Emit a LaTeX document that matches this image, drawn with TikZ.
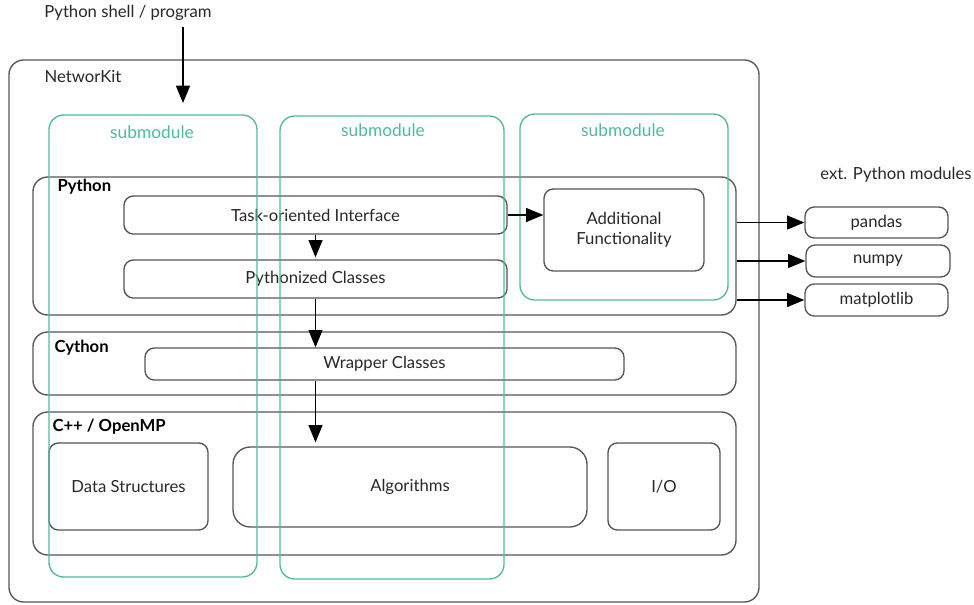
\documentclass[tikz,border=0pt]{standalone}
\usepackage{fontspec}
\setmainfont{Lato}
\usetikzlibrary{fit,arrows.meta}

\definecolor{boxgray}{RGB}{85,85,85}
\definecolor{subteal}{RGB}{78,187,160}
\definecolor{txtgray}{RGB}{40,40,40}

\tikzset{every picture/.style={line width=0.75pt}}
\tikzset{
  modbox/.style={draw=boxgray, line width=1pt, rounded corners=7pt, inner sep=0pt, text=txtgray, align=center, font=\fontsize{12.5}{15}\selectfont},
  layerbox/.style={draw=boxgray, line width=1pt, rounded corners=11pt, inner sep=0pt},
  subbox/.style={draw=subteal, line width=1pt, rounded corners=11pt, inner sep=0pt},
  sublabel/.style={text=subteal, font=\fontsize{13}{15}\selectfont},
  layerlabel/.style={anchor=west, font=\bfseries\fontsize{12.5}{15}\selectfont, inner sep=0pt},
  plainlabel/.style={text=txtgray, font=\fontsize{12.5}{15}\selectfont},
  arr/.style={-{Triangle[length=13pt,width=10.5pt]}, line width=1pt}
}

\begin{document}
\begin{tikzpicture}[x=0.75pt,y=0.75pt,yscale=-1,xscale=1]
\useasboundingbox (0,0) rectangle (974,604);

%Shape: Rounded Rect [id:nwk] 
\node [layerbox, rounded corners=11pt, fit={(9,60) (759,602)}] (nwk) {};
% Text Node
\node [plainlabel] (nwklabel) at (83,76) {NetworKit};
% Text Node
\node [plainlabel] (shell) at (128,13) {Python shell / program};

%Shape: Rounded Rect [id:layers] 
\node [layerbox, fit={(33,177) (736,315)}] (pylayer) {};
\node [layerbox, fit={(33,332) (736,395)}] (cylayer) {};
\node [layerbox, fit={(33,412) (736,555)}] (cpplayer) {};
% Text Node
\node [layerlabel] (pylabel) at (57,187) {Python};
\node [layerlabel] (cylabel) at (54,348) {Cython};
\node [layerlabel] (cpplabel) at (52,427) {C++ / OpenMP};

%Shape: Rounded Rect [id:python] 
\node [modbox, minimum width=287.25pt, minimum height=28.5pt] (task) at (315.5,215) {Task-oriented Interface};
\node [modbox, minimum width=287.25pt, minimum height=28.5pt] (pyclasses) at (315.5,279) {Pythonized Classes};
\node [modbox, minimum width=120pt, minimum height=61.5pt] (addfunc) at (624,230) {Additional\\Functionality};
%Shape: Rounded Rect [id:cython] 
\node [modbox, minimum width=359.25pt, minimum height=24pt] (wrapper) at (384.5,364) {Wrapper Classes};
%Shape: Rounded Rect [id:cpp] 
\node [modbox, minimum width=119.25pt, minimum height=65.25pt] (datastruct) at (128.5,486.5) {Data Structures};
\node [modbox, rounded corners=13pt, minimum width=265.5pt, minimum height=60pt] (algo) at (410,487) {Algorithms};
\node [modbox, minimum width=84pt, minimum height=65.25pt] (io) at (664,486.5) {I/O};

% Text Node
\node [plainlabel] (extlabel) at (896,175) {ext. Python modules};
%Shape: Rounded Rect [id:ext] 
\node [modbox, minimum width=107.25pt, minimum height=23.25pt] (pandas) at (876.5,222.5) {pandas};
\node [modbox, minimum width=108pt, minimum height=24pt] (numpy) at (878,261) {numpy};
\node [modbox, minimum width=107.25pt, minimum height=24pt] (matplotlib) at (876.5,300) {matplotlib};

%Shape: Rounded Rect [id:submodules] 
\node [subbox, fit={(49,115) (257,577)}] (subA) {};
\node [subbox, fit={(280,116) (504,579)}] (subB) {};
\node [subbox, fit={(520,114) (728,300)}] (subC) {};
% Text Node
\node [sublabel] (subAlabel) at (152,132) {submodule};
\node [sublabel] (subBlabel) at (383,130) {submodule};
\node [sublabel] (subClabel) at (623,130) {submodule};

%Straight Lines [id:arrows] 
\coordinate (shelltail) at (183,27);
\coordinate (shellhead) at (183,103);
\draw [arr] (shelltail) -- (shellhead);
\draw [arr, shorten >=1.5pt] (task.south) -- (pyclasses.north);
\draw [arr] (task.east) -- (task.east -| addfunc.west);
\draw [arr] (pyclasses.south) -- (pyclasses.south |- wrapper.north);
\draw [arr, shorten >=3pt] (pyclasses.south |- wrapper.south) -- (pyclasses.south |- algo.north);
\draw [arr] (pylayer.east |- pandas.west) -- (pandas.west);
\draw [arr] (pylayer.east |- numpy.west) -- (numpy.west);
\draw [arr] (pylayer.east |- matplotlib.west) -- (matplotlib.west);

\end{tikzpicture}
\end{document}
